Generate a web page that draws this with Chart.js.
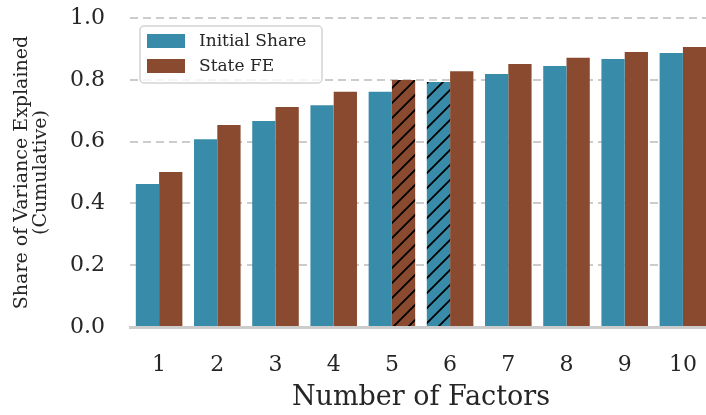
<!DOCTYPE html>
<html>
<head>
<meta charset="utf-8">
<script src="https://cdn.jsdelivr.net/npm/chart.js@4"></script>
<style>
  html, body { margin: 0; padding: 0; background: #fff; overflow: hidden; }
  #wrap { width: 712px; height: 415px; }
</style>
</head>
<body>
<div id="wrap"><canvas id="chart" width="712" height="415"></canvas></div>
<script>
const factors = ['1', '2', '3', '4', '5', '6', '7', '8', '9', '10'];
const initialShare = [0.463, 0.608, 0.667, 0.718, 0.761, 0.793, 0.819, 0.845, 0.867, 0.887];
const stateFE = [0.502, 0.654, 0.712, 0.761, 0.799, 0.828, 0.851, 0.871, 0.890, 0.906];
const yTicks = [0, 0.2, 0.4, 0.6, 0.8, 1.0];
// which bars get the hatch
const hatchInitial = ['6'];
const hatchStateFE = ['5'];

const BLUE = '#398ca9';
const BROWN = '#8a4a2f';
const TEXT = '#262626';
const FONT = "'DejaVu Serif', serif";

function hatch(color) {
  const s = 15;
  const c = document.createElement('canvas');
  c.width = s; c.height = s;
  const g = c.getContext('2d');
  g.fillStyle = color;
  g.fillRect(0, 0, s, s);
  g.strokeStyle = '#000';
  g.lineWidth = 1.8;
  g.beginPath();
  g.moveTo(-1, s + 1); g.lineTo(s + 1, -1);
  g.moveTo(-3, 3); g.lineTo(3, -3);
  g.moveTo(s - 3, s + 3); g.lineTo(s + 3, s - 3);
  g.stroke();
  return g.createPattern(c, 'repeat');
}

const blueHatch = hatch(BLUE);
const brownHatch = hatch(BROWN);

// legend drawn inside the plot, like the original
const innerLegend = {
  id: 'innerLegend',
  afterDraw(chart) {
    const ctx = chart.ctx;
    const x = 140, y = 26, w = 182, h = 57;
    ctx.save();
    ctx.beginPath();
    ctx.roundRect(x, y, w, h, 4);
    ctx.fillStyle = 'rgba(255,255,255,0.8)';
    ctx.fill();
    ctx.strokeStyle = '#d4d4d4';
    ctx.lineWidth = 1.5;
    ctx.stroke();
    ctx.font = '17px ' + FONT;
    ctx.textBaseline = 'middle';
    chart.data.datasets.forEach((ds, i) => {
      const cy = 41 + i * 25;
      ctx.fillStyle = ds.legendColor;
      ctx.fillRect(147, cy - 7, 38, 14);
      ctx.fillStyle = TEXT;
      ctx.fillText(ds.label, 199, cy + 1);
    });
    ctx.restore();
  }
};

new Chart(document.getElementById('chart'), {
  type: 'bar',
  data: {
    labels: factors,
    datasets: [
      {
        label: 'Initial Share',
        data: initialShare,
        legendColor: BLUE,
        backgroundColor: factors.map(f => hatchInitial.includes(f) ? blueHatch : BLUE),
      },
      {
        label: 'State FE',
        data: stateFE,
        legendColor: BROWN,
        backgroundColor: factors.map(f => hatchStateFE.includes(f) ? brownHatch : BROWN),
      }
    ]
  },
  options: {
    responsive: false,
    animation: false,
    layout: { padding: { top: 18, left: 0, right: 0, bottom: 0 } },
    datasets: {
      bar: { categoryPercentage: 0.8, barPercentage: 1.0, borderWidth: 0 }
    },
    plugins: {
      legend: { display: false },
      tooltip: { enabled: false }
    },
    scales: {
      x: {
        grid: { display: false, drawTicks: false },
        border: { display: true, color: '#cccccc', width: 3 },
        ticks: { color: TEXT, font: { family: FONT, size: 22 }, padding: 25 },
        title: {
          display: true,
          text: 'Number of Factors',
          color: TEXT,
          font: { family: FONT, size: 27 },
          padding: { top: 0, bottom: 1 }
        },
        afterFit(scale) {
          scale.height = 88;
          scale.paddingLeft = 0;
          scale.paddingRight = 0;
        }
      },
      y: {
        min: 0,
        max: 1,
        afterBuildTicks(scale) { scale.ticks = yTicks.map(v => ({ value: v })); },
        grid: {
          color: ctx => ctx.tick && ctx.tick.value === 0 ? 'rgba(0,0,0,0)' : '#cccccc',
          lineWidth: 2,
          drawTicks: false
        },
        border: { display: false, dash: [8, 5] },
        ticks: {
          color: TEXT,
          font: { family: FONT, size: 22 },
          padding: 25,
          callback: v => v.toFixed(1)
        },
        title: {
          display: true,
          text: ['Share of Variance Explained', '(Cumulative)'],
          color: TEXT,
          font: { family: FONT, size: 19, lineHeight: 1.0 },
          padding: { top: 13, bottom: 0 }
        },
        afterFit(scale) {
          scale.width = 130;
          scale.paddingTop = 0;
          scale.paddingBottom = 0;
        }
      }
    }
  },
  plugins: [innerLegend]
});
</script>
</body>
</html>
